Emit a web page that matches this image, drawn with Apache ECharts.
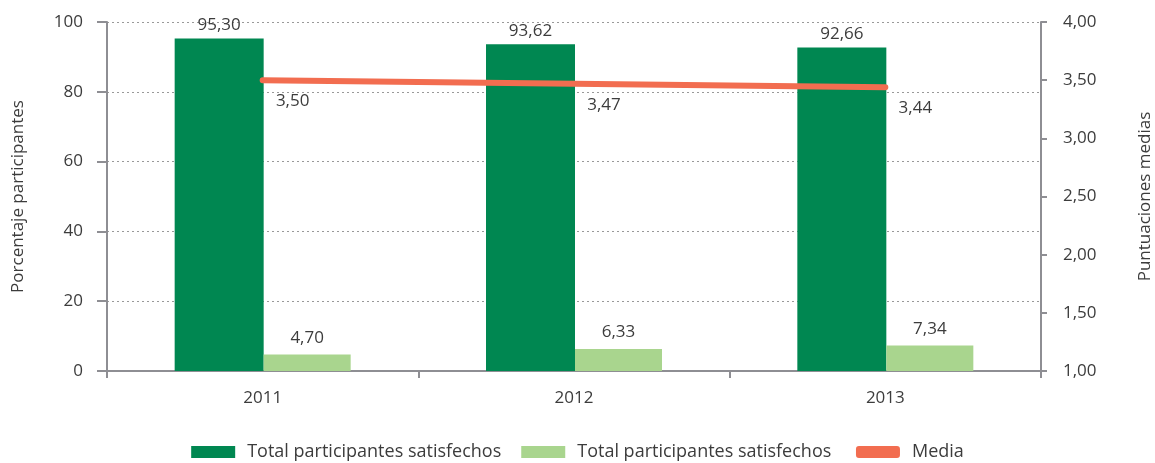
<!DOCTYPE html>
<html>
<head>
<meta charset="utf-8">
<script src="https://cdn.jsdelivr.net/npm/echarts@6/dist/echarts.min.js"></script>
<style>
  html, body { margin: 0; padding: 0; background: #fff; }
  #chart { width: 1155px; height: 463px; }
</style>
</head>
<body>
<div id="chart"></div>
<script>
const years = ['2011', '2012', '2013'];
const satisfechos = [95.30, 93.62, 92.66];
const noSatisfechos = [4.70, 6.33, 7.34];
const media = [3.50, 3.47, 3.44];
const leftTicks = [0, 20, 40, 60, 80, 100];
const rightTicks = [1.0, 1.5, 2.0, 2.5, 3.0, 3.5, 4.0];

const font = 'Open Sans';
const textColor = '#3c3c3c';
const axisColor = '#8e8e93';
const comma = (v, d) => v.toFixed(d).replace('.', ',');

const chart = echarts.init(document.getElementById('chart'));
chart.setOption({
    textStyle: { fontFamily: font },
    grid: { left: 107, right: 114, top: 22, bottom: 92, outerBoundsMode: 'none', containLabel: false },
    legend: {
        bottom: -3,
        left: 'center',
        itemWidth: 44,
        itemHeight: 12,
        itemGap: 20,
        textStyle: { fontSize: 18, color: textColor, fontFamily: font, padding: [0, 0, 0, 7] },
        data: [
            { name: 'Total participantes satisfechos', icon: 'rect' },
            { name: 'Total participantes satisfechos ', icon: 'rect' },
            { name: 'Media', icon: 'roundRect' }
        ]
    },
    xAxis: {
        type: 'category',
        data: years,
        axisLine: { lineStyle: { color: axisColor, width: 2 } },
        axisTick: { show: true, length: 7, lineStyle: { color: axisColor, width: 2 } },
        axisLabel: { color: textColor, fontSize: 17, margin: 19 }
    },
    yAxis: [{
        type: 'value',
        min: leftTicks[0],
        max: leftTicks[leftTicks.length - 1],
        interval: 20,
        name: 'Porcentaje participantes',
        nameLocation: 'middle',
        nameGap: 80,
        nameTextStyle: { color: textColor, fontSize: 17 },
        axisLine: { show: true, lineStyle: { color: axisColor, width: 2 } },
        axisTick: { show: true, length: 10, lineStyle: { color: axisColor, width: 2 } },
        axisLabel: { color: textColor, fontSize: 17, margin: 24 },
        splitLine: { lineStyle: { color: '#999', type: [2, 3], width: 1 } }
    }, {
        type: 'value',
        min: rightTicks[0],
        max: rightTicks[rightTicks.length - 1],
        interval: 0.5,
        name: 'Puntuaciones medias',
        nameLocation: 'middle',
        nameGap: 96,
        nameRotate: 90,
        nameTextStyle: { color: textColor, fontSize: 17 },
        axisLine: { show: true, lineStyle: { color: axisColor, width: 2 } },
        axisTick: { show: true, length: 6, lineStyle: { color: axisColor, width: 2 } },
        axisLabel: { color: textColor, fontSize: 17, margin: 22, formatter: v => comma(v, 2) },
        splitLine: { show: false }
    }],
    series: [{
        name: 'Total participantes satisfechos',
        type: 'bar',
        data: satisfechos,
        barWidth: 89,
        barGap: '0%',
        itemStyle: { color: '#008751' },
        label: {
            show: true, position: 'top', distance: 5,
            color: textColor, fontSize: 17,
            formatter: p => comma(p.value, 2)
        }
    }, {
        name: 'Total participantes satisfechos ',
        type: 'bar',
        data: noSatisfechos,
        barWidth: 87,
        itemStyle: { color: '#a9d58e' },
        label: {
            show: true, position: 'top', distance: 8,
            color: textColor, fontSize: 17,
            formatter: p => comma(p.value, 2)
        }
    }, {
        name: 'Media',
        type: 'line',
        yAxisIndex: 1,
        data: media,
        symbol: 'circle',
        symbolSize: 1,
        showSymbol: true,
        lineStyle: { color: '#f26d50', width: 6, cap: 'round' },
        itemStyle: { color: '#f26d50' },
        label: {
            show: true, position: 'bottom', distance: 12, offset: [30, 0],
            color: textColor, fontSize: 17,
            formatter: p => comma(p.value, 2)
        }
    }]
});
</script>
</body>
</html>
